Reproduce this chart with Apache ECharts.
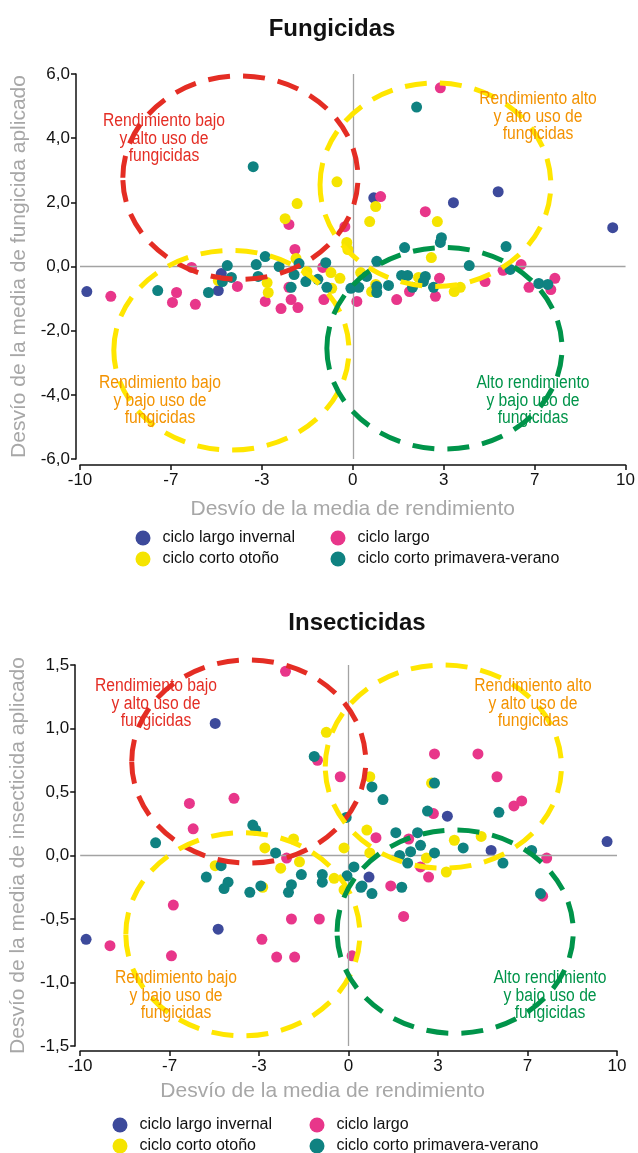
<!DOCTYPE html>
<html>
<head>
<meta charset="utf-8">
<script src="https://cdn.jsdelivr.net/npm/echarts@6/dist/echarts.min.js"></script>
<style>
  html, body { margin: 0; padding: 0; background: #fff; }
  #main { width: 638px; height: 1153px; }
</style>
</head>
<body>
<div id="main"></div>
<script>
// series / legend names
var seriesNames = ['ciclo largo invernal', 'ciclo largo', 'ciclo corto otoño', 'ciclo corto primavera-verano'];
var seriesColors = ['#3d4a9b', '#e8368a', '#f5e400', '#0f8281'];

// x axis (same for both charts)
var xTickLabels = ['-10', '-7', '-3', '0', '3', '7', '10'];

// --- Fungicidas: [desvío rendimiento, desvío fungicida]
var fungLargoInvernal = [[-9.75,-0.78],[-4.82,-0.22],[-4.93,-0.75],[0.77,2.14],[3.69,1.99],[5.33,2.33],[9.53,1.21]];
var fungLargo = [[3.21,5.57],[1.02,2.18],[2.66,1.71],[-2.34,1.31],[-2.12,0.53],[-0.29,1.24],[-5.91,-0.03],
  [-8.87,-0.93],[-6.46,-0.81],[-6.61,-1.12],[-5.77,-1.18],[-4.23,-0.62],[-3.21,-1.09],[-2.63,-1.31],
  [-2.26,-1.03],[-2.01,-1.28],[-2.34,-0.65],[-1.10,-0.03],[-1.06,-1.03],[0.15,-1.09],[1.61,-1.03],
  [2.08,-0.78],[3.18,-0.37],[3.03,-0.93],[4.85,-0.47],[5.51,-0.12],[6.17,0.06],[6.46,-0.65],[7.26,-0.72],[7.41,-0.37]];
var fungCortoOtono = [[-2.04,1.96],[-2.48,1.49],[-0.58,2.64],[0.84,1.87],[0.62,1.40],[3.10,1.40],[-0.22,0.75],
  [-0.18,0.53],[2.88,0.28],[-0.47,-0.37],[-0.80,-0.19],[0.29,-0.19],[0.69,-0.78],[0.84,-0.56],[2.41,-0.34],
  [3.72,-0.78],[3.94,-0.65],[-3.14,-0.50],[-3.10,-0.81],[-4.93,-0.44],[-2.08,0.25],[-1.68,-0.16],[-0.77,-0.68]];
var fungCortoPV = [[-3.65,3.11],[2.34,4.97],[3.25,0.90],[3.21,0.75],[1.90,0.59],[5.62,0.62],[0.88,0.16],
  [4.27,0.03],[5.77,-0.09],[-4.60,0.03],[-4.78,-0.47],[-4.45,-0.34],[-5.29,-0.81],[-7.15,-0.75],[-3.54,0.06],
  [-3.21,0.31],[-3.47,-0.31],[-2.70,0.00],[-1.97,0.09],[-2.15,-0.25],[-1.72,-0.47],[-2.26,-0.65],[-0.99,0.12],
  [-0.95,-0.65],[-1.28,-0.40],[-0.07,-0.68],[0.22,-0.65],[0.51,-0.31],[0.88,-0.62],[0.88,-0.81],[1.31,-0.59],
  [1.79,-0.28],[2.01,-0.28],[2.19,-0.65],[2.66,-0.31],[2.59,-0.47],[2.96,-0.65],[6.82,-0.53],[7.15,-0.56]];

// --- Insecticidas: [desvío rendimiento, desvío insecticida]
var insLargoInvernal = [[-9.78,-0.66],[-4.97,1.04],[-4.86,-0.58],[3.68,0.31],[5.31,0.04],[9.63,0.11],[0.76,-0.17]];
var insLargo = [[-2.35,1.45],[-5.93,0.41],[-4.27,0.45],[-5.79,0.21],[-1.16,0.75],[-0.31,0.62],[3.20,0.80],
  [4.82,0.80],[5.53,0.62],[6.16,0.39],[6.45,0.43],[3.16,0.33],[1.02,0.14],[2.24,0.13],[7.38,-0.02],
  [2.68,-0.09],[2.98,-0.17],[1.57,-0.24],[2.05,-0.48],[0.13,-0.79],[7.23,-0.32],[-6.53,-0.39],[-8.89,-0.71],
  [-6.60,-0.79],[-3.23,-0.66],[-2.68,-0.80],[-2.01,-0.80],[-2.13,-0.50],[-1.09,-0.50],[-2.31,-0.02]];
var insCortoOtono = [[-0.83,0.97],[0.79,0.62],[3.09,0.57],[0.68,0.20],[-0.17,0.06],[3.94,0.12],[4.94,0.15],
  [2.90,-0.02],[0.79,0.02],[-3.12,0.06],[-2.53,-0.10],[-2.05,0.13],[-1.83,-0.05],[-0.54,-0.18],[-0.17,-0.27],
  [-4.97,-0.08],[3.64,-0.13],[-3.20,-0.25]];
var insCortoPV = [[-7.19,0.10],[-3.57,0.24],[-3.46,0.20],[-1.28,0.78],[0.87,0.54],[1.28,0.44],[3.20,0.57],
  [2.94,0.35],[5.60,0.34],[-0.09,0.30],[1.76,0.18],[2.57,0.18],[2.68,0.08],[2.31,0.03],[3.20,0.02],[4.27,0.06],
  [6.82,0.04],[5.75,-0.06],[1.90,0.00],[2.20,-0.06],[7.15,-0.30],[1.98,-0.25],[0.87,-0.30],[0.46,-0.25],
  [0.20,-0.09],[-0.06,-0.16],[-2.72,0.02],[-4.75,-0.08],[-5.30,-0.17],[-4.49,-0.21],[-4.64,-0.26],[-3.68,-0.29],
  [-3.27,-0.24],[-1.76,-0.15],[-2.13,-0.23],[-2.24,-0.29],[-0.98,-0.15],[-0.98,-0.21],[0.50,-0.24]];

// quadrant regions: [centre x, centre y, radius x, radius y] in data units
var fungRegions = [[-4.12,2.77,4.31,3.17],[3.03,2.55,4.23,3.17],[-4.45,-2.61,4.31,3.11],[3.36,-2.55,4.31,3.14]];
var insRegions = [[-3.72,0.74,4.36,0.80],[3.53,0.70,4.40,0.80],[-3.94,-0.62,4.36,0.80],[3.97,-0.60,4.40,0.80]];
var regionColors = ['#e42d24', '#ffe600', '#ffe600', '#00944a'];

var SANS = "'Liberation Sans',Arial,sans-serif";

var xTickPos = xTickLabels.map(function (l, i) { return -10 + i * 20 / (xTickLabels.length - 1); });

function xLabel(v) {
  var best = 0;
  for (var i = 1; i < xTickPos.length; i++) {
    if (Math.abs(xTickPos[i] - v) < Math.abs(xTickPos[best] - v)) best = i;
  }
  return xTickLabels[best];
}

function xAxisOpt(grid, offset, gap, pad) {
  return {
    type: 'value', gridIndex: grid, min: -10, max: 10, offset: offset,
    name: 'Desvío de la media de rendimiento', nameLocation: 'middle', nameGap: gap,
    nameTextStyle: { color: '#a7a7a7', fontSize: 21, fontFamily: SANS, padding: pad },
    axisLine: { show: true, onZero: false, lineStyle: { color: '#111', width: 1.5 } },
    axisTick: { show: true, length: 5, lineStyle: { color: '#111', width: 1.5 }, customValues: xTickPos },
    axisLabel: { color: '#111', fontSize: 17, fontFamily: SANS, margin: 7, customValues: xTickPos, formatter: xLabel },
    splitLine: { show: false }
  };
}

function yAxisOpt(grid, min, max, step, offset, name, gap) {
  return {
    type: 'value', gridIndex: grid, min: min, max: max, interval: step, offset: offset,
    name: name, nameLocation: 'middle', nameGap: gap,
    nameTextStyle: { color: '#a7a7a7', fontSize: 21, fontFamily: SANS },
    axisLine: { show: true, onZero: false, lineStyle: { color: '#111', width: 1.5 } },
    axisTick: { show: true, length: 5, lineStyle: { color: '#111', width: 1.5 } },
    axisLabel: { color: '#111', fontSize: 17, fontFamily: SANS, margin: 6,
      formatter: function (v) { return v.toFixed(1).replace('.', ','); } },
    splitLine: { show: false }
  };
}

function scatterSeries(grid, idx, data, withZero) {
  var s = {
    name: seriesNames[idx], type: 'scatter', xAxisIndex: grid, yAxisIndex: grid,
    data: data, symbol: 'circle', symbolSize: 11, z: 3 + idx,
    itemStyle: { color: seriesColors[idx], opacity: 1 }
  };
  if (withZero) {
    s.markLine = {
      silent: true, symbol: 'none', animation: false, label: { show: false },
      lineStyle: { color: '#a3a3a3', width: 1.3, type: 'solid' },
      data: [{ xAxis: 0 }, { yAxis: 0 }]
    };
  }
  return s;
}

function regionSeries(grid, regions) {
  return {
    name: 'regiones' + grid, type: 'custom', xAxisIndex: grid, yAxisIndex: grid,
    data: regions, encode: { x: 0, y: 1 }, clip: false, silent: true, z: 10,
    renderItem: function (params, api) {
      var c = api.coord([api.value(0), api.value(1)]);
      var s = api.size([api.value(2), api.value(3)]);
      return {
        type: 'ellipse',
        shape: { cx: c[0], cy: c[1], rx: s[0], ry: s[1] },
        style: { fill: null, stroke: regionColors[params.dataIndex], lineWidth: 5, lineDash: [22, 13] }
      };
    }
  };
}

// condensed look: regular face squeezed horizontally
function note(text, x, y, color) {
  return {
    type: 'text', x: x, y: y, scaleX: 0.87, silent: true, z: 20,
    style: { text: text, x: 0, y: 0, fill: color, fontSize: 18, fontFamily: SANS, lineHeight: 17.5,
      align: 'center', verticalAlign: 'middle' }
  };
}

function legendCol(left, top, names) {
  return {
    orient: 'vertical', left: left, top: top, height: 60, padding: 0, itemGap: 5, itemWidth: 15, itemHeight: 15,
    icon: 'circle', selectedMode: false, data: names,
    textStyle: { color: '#111', fontSize: 16, lineHeight: 15, fontFamily: SANS, padding: [0, 0, 0, 7] }
  };
}

var chart = echarts.init(document.getElementById('main'), null, { renderer: 'canvas' });

var option = {
  backgroundColor: '#fff',
  animation: false,
  title: [
    { text: 'Fungicidas', left: 332, top: 17, padding: 0, textAlign: 'center',
      textStyle: { fontSize: 24, fontWeight: 'bold', color: '#111', fontFamily: SANS } },
    { text: 'Insecticidas', left: 357, top: 611, padding: 0, textAlign: 'center',
      textStyle: { fontSize: 24, fontWeight: 'bold', color: '#111', fontFamily: SANS } }
  ],
  legend: [
    legendCol(135.5, 530, [seriesNames[0], seriesNames[2]]),
    legendCol(330.5, 530, [seriesNames[1], seriesNames[3]]),
    legendCol(112.5, 1117, [seriesNames[0], seriesNames[2]]),
    legendCol(309.5, 1117, [seriesNames[1], seriesNames[3]])
  ],
  grid: [
    { left: 80, right: 9, top: 74, height: 385 },
    { left: 76, right: 21, top: 665, height: 381 }
  ],
  xAxis: [ xAxisOpt(0, 6, 34, 0), xAxisOpt(1, 5, 30, [0, 52, 0, 0]) ],
  yAxis: [
    yAxisOpt(0, -6, 6, 2, 4, 'Desvío de la media de fungicida aplicado', 43),
    yAxisOpt(1, -1.5, 1.5, 0.5, 5, 'Desvío de la media de insecticida aplicado', 38)
  ],
  graphic: [
    note('Rendimiento bajo\ny alto uso de\nfungicidas', 164, 139, '#e42d24'),
    note('Rendimiento alto\ny alto uso de\nfungicidas', 538, 117, '#f39200'),
    note('Rendimiento bajo\ny bajo uso de\nfungicidas', 160, 401, '#f39200'),
    note('Alto rendimiento\ny bajo uso de\nfungicidas', 533, 401, '#00944a'),
    note('Rendimiento bajo\ny alto uso de\nfungicidas', 156, 704, '#e42d24'),
    note('Rendimiento alto\ny alto uso de\nfungicidas', 533, 704, '#f39200'),
    note('Rendimiento bajo\ny bajo uso de\nfungicidas', 176, 996, '#f39200'),
    note('Alto rendimiento\ny bajo uso de\nfungicidas', 550, 996, '#00944a')
  ],
  series: [
    scatterSeries(0, 0, fungLargoInvernal, true),
    scatterSeries(0, 1, fungLargo, false),
    scatterSeries(0, 2, fungCortoOtono, false),
    scatterSeries(0, 3, fungCortoPV, false),
    regionSeries(0, fungRegions),
    scatterSeries(1, 0, insLargoInvernal, true),
    scatterSeries(1, 1, insLargo, false),
    scatterSeries(1, 2, insCortoOtono, false),
    scatterSeries(1, 3, insCortoPV, false),
    regionSeries(1, insRegions)
  ]
};

chart.setOption(option);
</script>
</body>
</html>
